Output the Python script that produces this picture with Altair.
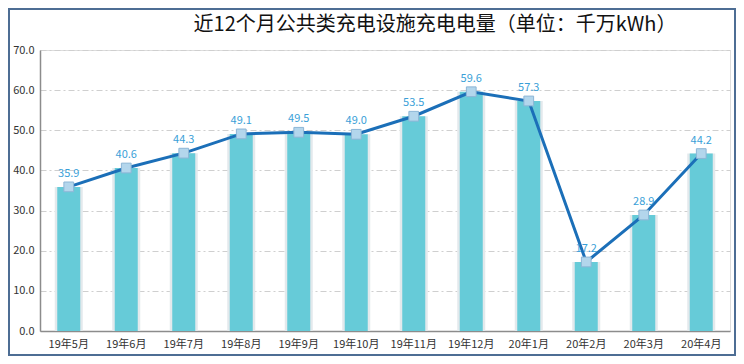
import altair as alt
import pandas as pd

months = ["19年5月", "19年6月", "19年7月", "19年8月", "19年9月", "19年10月",
          "19年11月", "19年12月", "20年1月", "20年2月", "20年3月", "20年4月"]
values = [35.9, 40.6, 44.3, 49.1, 49.5, 49.0, 53.5, 59.6, 57.3, 17.2, 28.9, 44.2]
title_text = "近12个月公共类充电设施充电电量（单位：千万kWh）"

df = pd.DataFrame({"month": months, "value": values})
df["label"] = [f"{v:.1f}" for v in values]

FONT = "Noto Sans CJK SC"
W, H = 690, 281

x = alt.X("month:N", sort=months, title=None,
          scale=alt.Scale(paddingInner=0, paddingOuter=0),
          axis=alt.Axis(labelAngle=0, ticks=False, labelPadding=7, labelFontSize=11,
                        labelColor="#333333", labelFont=FONT, domainColor="#8c8c8c",
                        domainWidth=1.5, grid=False))
y = alt.Y("value:Q", title=None,
          scale=alt.Scale(domain=[0, 70]),
          axis=alt.Axis(values=[0, 10, 20, 30, 40, 50, 60, 70], format=".1f", ticks=False,
                        labelPadding=6, labelFontSize=11, labelColor="#333333", labelFont=FONT,
                        domainColor="#8c8c8c", domainWidth=1.5,
                        gridColor="#cfcfcf", gridDash=[6, 3, 2, 3], gridWidth=1))

base = alt.Chart(df)

shadow = base.mark_bar(size=28, color="#e3e9ec").encode(x=x, y=y)
bars = base.mark_bar(size=23, color="#66CBD8").encode(x=x, y=y)
line = base.mark_line(color="#1B6FB8", strokeWidth=3).encode(x=x, y=y)
points = base.mark_point(shape="square", size=95, filled=True, fill="#b3d6ec",
                         stroke="#8db6d6", strokeWidth=1, opacity=1).encode(x=x, y=y)
labels = base.mark_text(dy=-13, fontSize=11, color="#3A9FD8", font=FONT).encode(
    x=x, y=y, text="label:N")

one = pd.DataFrame({"t": [title_text]})
title = alt.Chart(one).mark_text(fontSize=20, font=FONT, color="#111111",
                                 baseline="middle", align="center").encode(
    x=alt.value(395), y=alt.value(-25), text="t:N")

frame = alt.Chart(one).mark_rect(
    filled=False, stroke="#4d6d94", strokeWidth=2).encode(
    x=alt.value(-31), x2=alt.value(W + 5), y=alt.value(-41), y2=alt.value(H + 24))

chart = alt.layer(shadow, bars, line, points, labels, title, frame).properties(
    width=W, height=H,
    autosize=alt.AutoSizeParams(type="none"),
    padding={"left": 32, "top": 42, "right": 6, "bottom": 25},
).configure_view(stroke="#c5dbe9", strokeWidth=1.5).configure(background="white")

chart.save("out.html", embed_options={"renderer": "svg", "actions": False})
